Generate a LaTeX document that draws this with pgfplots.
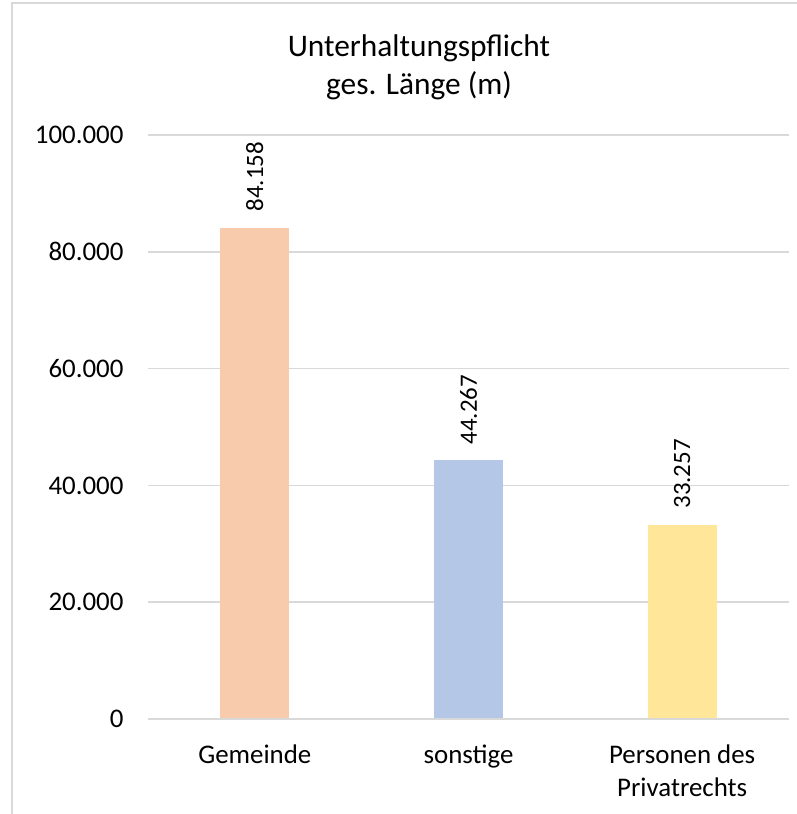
\documentclass[border=0pt]{standalone}
\usepackage{pgfplots}
\pgfplotsset{compat=1.18}
\usepackage{fontspec}
\setmainfont{Carlito}
\definecolor{gridgray}{HTML}{D9D9D9}
\definecolor{frame}{HTML}{D9D9D9}
\definecolor{barA}{HTML}{F8CBAD}
\definecolor{barB}{HTML}{B4C7E7}
\definecolor{barC}{HTML}{FFE699}
\begin{document}
\begin{tikzpicture}[x=1bp,y=1bp]
\path[use as bounding box] (0,0) rectangle (797,814);
\draw[frame, line width=2bp] (12,0) -- (12,811) -- (797,811);
\node[align=center, font=\fontsize{31.5}{38}\selectfont, anchor=center] at (419,747) {Unterhaltungspflicht\\ges. Länge (m)};
\begin{axis}[
  at={(148bp,95bp)}, anchor=south west,
  scale only axis, width=641bp, height=584bp,
  xmin=-0.5, xmax=2.5, ymin=0, ymax=100000,
  axis line style={draw=none},
  ytick={0,20000,40000,60000,80000,100000},
  yticklabels={0,20.000,40.000,60.000,80.000,100.000},
  xtick={0,1,2},
  xticklabels={Gemeinde, sonstige, {Personen des\\Privatrechts}},
  major tick length=0pt,
  ymajorgrids, grid style={gridgray, line width=1.5bp},
  tick label style={font=\fontsize{27}{33}\selectfont},
  xticklabel style={align=center, anchor=north, yshift=-22bp},
  yticklabel style={xshift=-21bp},
  scaled y ticks=false,
  ybar, bar width=69bp, bar shift=0pt,
  point meta=explicit symbolic,
  nodes near coords,
  every node near coord/.append style={rotate=90, anchor=west, inner xsep=16bp, font=\fontsize{25}{30}\selectfont, text=black},
  clip=false,
]
\addplot[fill=barA, draw=none] coordinates {(0,84158) [84.158]};
\addplot[fill=barB, draw=none] coordinates {(1,44267) [44.267]};
\addplot[fill=barC, draw=none] coordinates {(2,33257) [33.257]};
\draw[gridgray, line width=1.5bp] (axis cs:-0.5,0) -- (axis cs:2.5,0);
\end{axis}
\end{tikzpicture}
\end{document}
